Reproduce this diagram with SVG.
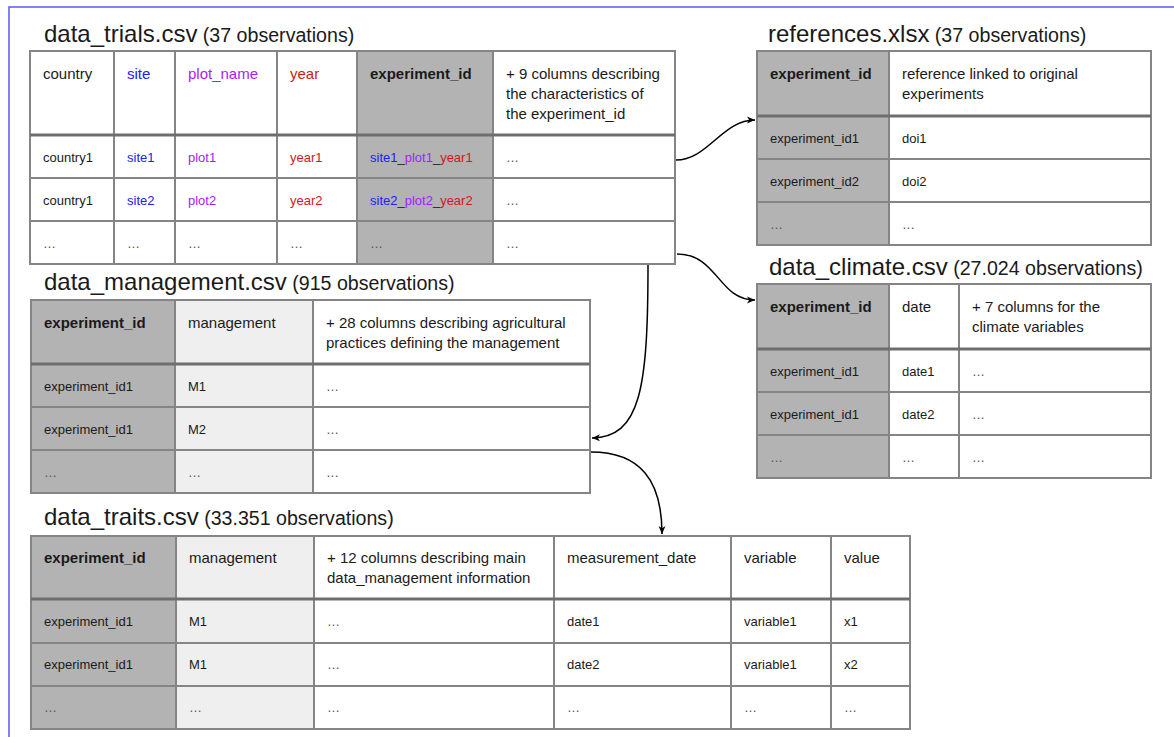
<svg xmlns="http://www.w3.org/2000/svg" width="1174" height="737" viewBox="0 0 1174 737">
<defs>
<marker id="arr" markerUnits="userSpaceOnUse" markerWidth="10" markerHeight="8" refX="8" refY="4" orient="auto">
<path d="M0,0.5 L8,4 L0,7.5 L2.2,4 z" fill="#000"/>
</marker>
<style>
.c{stroke:#858585;stroke-width:2;fill:#fff}
.k{fill:#b3b3b3}
.l{fill:#efefef}
.sep{stroke:#6e6e6e;stroke-width:3;fill:none}
text{font-family:"Liberation Sans",Arial,sans-serif;fill:#1a1a1a}
.h{font-size:15px}
.b{font-size:13px}
.e{font-size:13px;fill:#555}
.bd{font-weight:bold}
.ti{font-size:24px}
.su{font-size:19.6px}
.bl{fill:#2020ff}
.pu{fill:#a61cff}
.rd{fill:#d01818}
.con{fill:none;stroke:#000;stroke-width:1.5}
</style>
</defs>
<rect x="0" y="0" width="1174" height="737" fill="#fff"/>
<rect x="9" y="7" width="1300" height="900" fill="none" stroke="#5a5af0" stroke-width="1.5"/>

<g id="data_trials">
<text x="44" y="42" class="ti">data_trials.csv<tspan class="su"> (37 observations)</tspan></text>
<rect class="c" x="30" y="51" width="84" height="84"/>
<rect class="c" x="114" y="51" width="61" height="84"/>
<rect class="c" x="175" y="51" width="102" height="84"/>
<rect class="c" x="277" y="51" width="80" height="84"/>
<rect class="c k" x="357" y="51" width="136" height="84"/>
<rect class="c" x="493" y="51" width="182" height="84"/>
<rect class="c" x="30" y="135" width="84" height="43"/>
<rect class="c" x="114" y="135" width="61" height="43"/>
<rect class="c" x="175" y="135" width="102" height="43"/>
<rect class="c" x="277" y="135" width="80" height="43"/>
<rect class="c k" x="357" y="135" width="136" height="43"/>
<rect class="c" x="493" y="135" width="182" height="43"/>
<rect class="c" x="30" y="178" width="84" height="43"/>
<rect class="c" x="114" y="178" width="61" height="43"/>
<rect class="c" x="175" y="178" width="102" height="43"/>
<rect class="c" x="277" y="178" width="80" height="43"/>
<rect class="c k" x="357" y="178" width="136" height="43"/>
<rect class="c" x="493" y="178" width="182" height="43"/>
<rect class="c" x="30" y="221" width="84" height="43"/>
<rect class="c" x="114" y="221" width="61" height="43"/>
<rect class="c" x="175" y="221" width="102" height="43"/>
<rect class="c" x="277" y="221" width="80" height="43"/>
<rect class="c k" x="357" y="221" width="136" height="43"/>
<rect class="c" x="493" y="221" width="182" height="43"/>
<path class="sep" d="M30,135 H675"/>
<text x="43" y="79" class="h">country</text>
<text x="127" y="79" class="h bl">site</text>
<text x="188" y="79" class="h pu">plot_name</text>
<text x="290" y="79" class="h rd">year</text>
<text x="370" y="79" class="h bd">experiment_id</text>
<text x="506" y="79" class="h">+ 9 columns describing</text>
<text x="506" y="99" class="h">the characteristics of</text>
<text x="506" y="119" class="h">the experiment_id</text>
<text x="43" y="162" class="b">country1</text>
<text x="127" y="162" class="b bl">site1</text>
<text x="188" y="162" class="b pu">plot1</text>
<text x="290" y="162" class="b rd">year1</text>
<text x="370" y="162" class="b"><tspan class="bl">site1</tspan>_<tspan class="pu">plot1</tspan>_<tspan class="rd">year1</tspan></text>
<text x="506" y="162" class="e">…</text>
<text x="43" y="205" class="b">country1</text>
<text x="127" y="205" class="b bl">site2</text>
<text x="188" y="205" class="b pu">plot2</text>
<text x="290" y="205" class="b rd">year2</text>
<text x="370" y="205" class="b"><tspan class="bl">site2</tspan>_<tspan class="pu">plot2</tspan>_<tspan class="rd">year2</tspan></text>
<text x="506" y="205" class="e">…</text>
<text x="43" y="248" class="e">…</text>
<text x="127" y="248" class="e">…</text>
<text x="188" y="248" class="e">…</text>
<text x="290" y="248" class="e">…</text>
<text x="370" y="248" class="e">…</text>
<text x="506" y="248" class="e">…</text>
</g>

<g id="references">
<text x="768" y="42" class="ti">references.xlsx<tspan class="su"> (37 observations)</tspan></text>
<rect class="c k" x="757" y="51" width="132" height="65"/>
<rect class="c" x="889" y="51" width="262" height="65"/>
<rect class="c k" x="757" y="116" width="132" height="43"/>
<rect class="c" x="889" y="116" width="262" height="43"/>
<rect class="c k" x="757" y="159" width="132" height="43"/>
<rect class="c" x="889" y="159" width="262" height="43"/>
<rect class="c k" x="757" y="202" width="132" height="43"/>
<rect class="c" x="889" y="202" width="262" height="43"/>
<path class="sep" d="M757,116 H1151"/>
<text x="770" y="79" class="h bd">experiment_id</text>
<text x="902" y="79" class="h">reference linked to original</text>
<text x="902" y="99" class="h">experiments</text>
<text x="770" y="143" class="b">experiment_id1</text>
<text x="902" y="143" class="b">doi1</text>
<text x="770" y="186" class="b">experiment_id2</text>
<text x="902" y="186" class="b">doi2</text>
<text x="770" y="229" class="e">…</text>
<text x="902" y="229" class="e">…</text>
</g>

<g id="data_climate">
<text x="769" y="275" class="ti">data_climate.csv<tspan class="su"> (27.024 observations)</tspan></text>
<rect class="c k" x="757" y="284" width="132" height="65"/>
<rect class="c" x="889" y="284" width="70" height="65"/>
<rect class="c" x="959" y="284" width="192" height="65"/>
<rect class="c k" x="757" y="349" width="132" height="43"/>
<rect class="c" x="889" y="349" width="70" height="43"/>
<rect class="c" x="959" y="349" width="192" height="43"/>
<rect class="c k" x="757" y="392" width="132" height="43"/>
<rect class="c" x="889" y="392" width="70" height="43"/>
<rect class="c" x="959" y="392" width="192" height="43"/>
<rect class="c k" x="757" y="435" width="132" height="43"/>
<rect class="c" x="889" y="435" width="70" height="43"/>
<rect class="c" x="959" y="435" width="192" height="43"/>
<path class="sep" d="M757,349 H1151"/>
<text x="770" y="312" class="h bd">experiment_id</text>
<text x="902" y="312" class="h">date</text>
<text x="972" y="312" class="h">+ 7 columns for the</text>
<text x="972" y="332" class="h">climate variables</text>
<text x="770" y="376" class="b">experiment_id1</text>
<text x="902" y="376" class="b">date1</text>
<text x="972" y="376" class="e">…</text>
<text x="770" y="419" class="b">experiment_id1</text>
<text x="902" y="419" class="b">date2</text>
<text x="972" y="419" class="e">…</text>
<text x="770" y="462" class="e">…</text>
<text x="902" y="462" class="e">…</text>
<text x="972" y="462" class="e">…</text>
</g>

<g id="data_management">
<text x="44" y="290" class="ti">data_management.csv<tspan class="su"> (915 observations)</tspan></text>
<rect class="c k" x="31" y="300" width="144" height="64"/>
<rect class="c l" x="175" y="300" width="138" height="64"/>
<rect class="c" x="313" y="300" width="277" height="64"/>
<rect class="c k" x="31" y="364" width="144" height="43"/>
<rect class="c l" x="175" y="364" width="138" height="43"/>
<rect class="c" x="313" y="364" width="277" height="43"/>
<rect class="c k" x="31" y="407" width="144" height="43"/>
<rect class="c l" x="175" y="407" width="138" height="43"/>
<rect class="c" x="313" y="407" width="277" height="43"/>
<rect class="c k" x="31" y="450" width="144" height="43"/>
<rect class="c l" x="175" y="450" width="138" height="43"/>
<rect class="c" x="313" y="450" width="277" height="43"/>
<path class="sep" d="M31,364 H590"/>
<text x="44" y="328" class="h bd">experiment_id</text>
<text x="188" y="328" class="h">management</text>
<text x="326" y="328" class="h">+ 28 columns describing agricultural</text>
<text x="326" y="348" class="h">practices defining the management</text>
<text x="44" y="391" class="b">experiment_id1</text>
<text x="188" y="391" class="b">M1</text>
<text x="326" y="391" class="e">…</text>
<text x="44" y="434" class="b">experiment_id1</text>
<text x="188" y="434" class="b">M2</text>
<text x="326" y="434" class="e">…</text>
<text x="44" y="477" class="e">…</text>
<text x="188" y="477" class="e">…</text>
<text x="326" y="477" class="e">…</text>
</g>

<g id="data_traits">
<text x="44" y="525" class="ti">data_traits.csv<tspan class="su"> (33.351 observations)</tspan></text>
<rect class="c k" x="31" y="536" width="145" height="63"/>
<rect class="c l" x="176" y="536" width="138" height="63"/>
<rect class="c" x="314" y="536" width="240" height="63"/>
<rect class="c" x="554" y="536" width="177" height="63"/>
<rect class="c" x="731" y="536" width="100" height="63"/>
<rect class="c" x="831" y="536" width="79" height="63"/>
<rect class="c k" x="31" y="599" width="145" height="44"/>
<rect class="c l" x="176" y="599" width="138" height="44"/>
<rect class="c" x="314" y="599" width="240" height="44"/>
<rect class="c" x="554" y="599" width="177" height="44"/>
<rect class="c" x="731" y="599" width="100" height="44"/>
<rect class="c" x="831" y="599" width="79" height="44"/>
<rect class="c k" x="31" y="643" width="145" height="43"/>
<rect class="c l" x="176" y="643" width="138" height="43"/>
<rect class="c" x="314" y="643" width="240" height="43"/>
<rect class="c" x="554" y="643" width="177" height="43"/>
<rect class="c" x="731" y="643" width="100" height="43"/>
<rect class="c" x="831" y="643" width="79" height="43"/>
<rect class="c k" x="31" y="686" width="145" height="43"/>
<rect class="c l" x="176" y="686" width="138" height="43"/>
<rect class="c" x="314" y="686" width="240" height="43"/>
<rect class="c" x="554" y="686" width="177" height="43"/>
<rect class="c" x="731" y="686" width="100" height="43"/>
<rect class="c" x="831" y="686" width="79" height="43"/>
<path class="sep" d="M31,599 H910"/>
<text x="44" y="563" class="h bd">experiment_id</text>
<text x="189" y="563" class="h">management</text>
<text x="327" y="563" class="h">+ 12 columns describing main</text>
<text x="327" y="583" class="h">data_management information</text>
<text x="567" y="563" class="h">measurement_date</text>
<text x="744" y="563" class="h">variable</text>
<text x="844" y="563" class="h">value</text>
<text x="44" y="626" class="b">experiment_id1</text>
<text x="189" y="626" class="b">M1</text>
<text x="327" y="626" class="e">…</text>
<text x="567" y="626" class="b">date1</text>
<text x="744" y="626" class="b">variable1</text>
<text x="844" y="626" class="b">x1</text>
<text x="44" y="669" class="b">experiment_id1</text>
<text x="189" y="669" class="b">M1</text>
<text x="327" y="669" class="e">…</text>
<text x="567" y="669" class="b">date2</text>
<text x="744" y="669" class="b">variable1</text>
<text x="844" y="669" class="b">x2</text>
<text x="44" y="712" class="e">…</text>
<text x="189" y="712" class="e">…</text>
<text x="327" y="712" class="e">…</text>
<text x="567" y="712" class="e">…</text>
<text x="744" y="712" class="e">…</text>
<text x="844" y="712" class="e">…</text>
</g>

<g id="connectors">
<path class="con" d="M676,160 C708,160 722,120 755,120" marker-end="url(#arr)"/>
<path class="con" d="M677,254 C718,254 718,300 755,300" marker-end="url(#arr)"/>
<path class="con" d="M648,265 C648,390 640,437 592,438" marker-end="url(#arr)"/>
<path class="con" d="M591,452 C640,452 662,480 662,534" marker-end="url(#arr)"/>
</g>
</svg>
